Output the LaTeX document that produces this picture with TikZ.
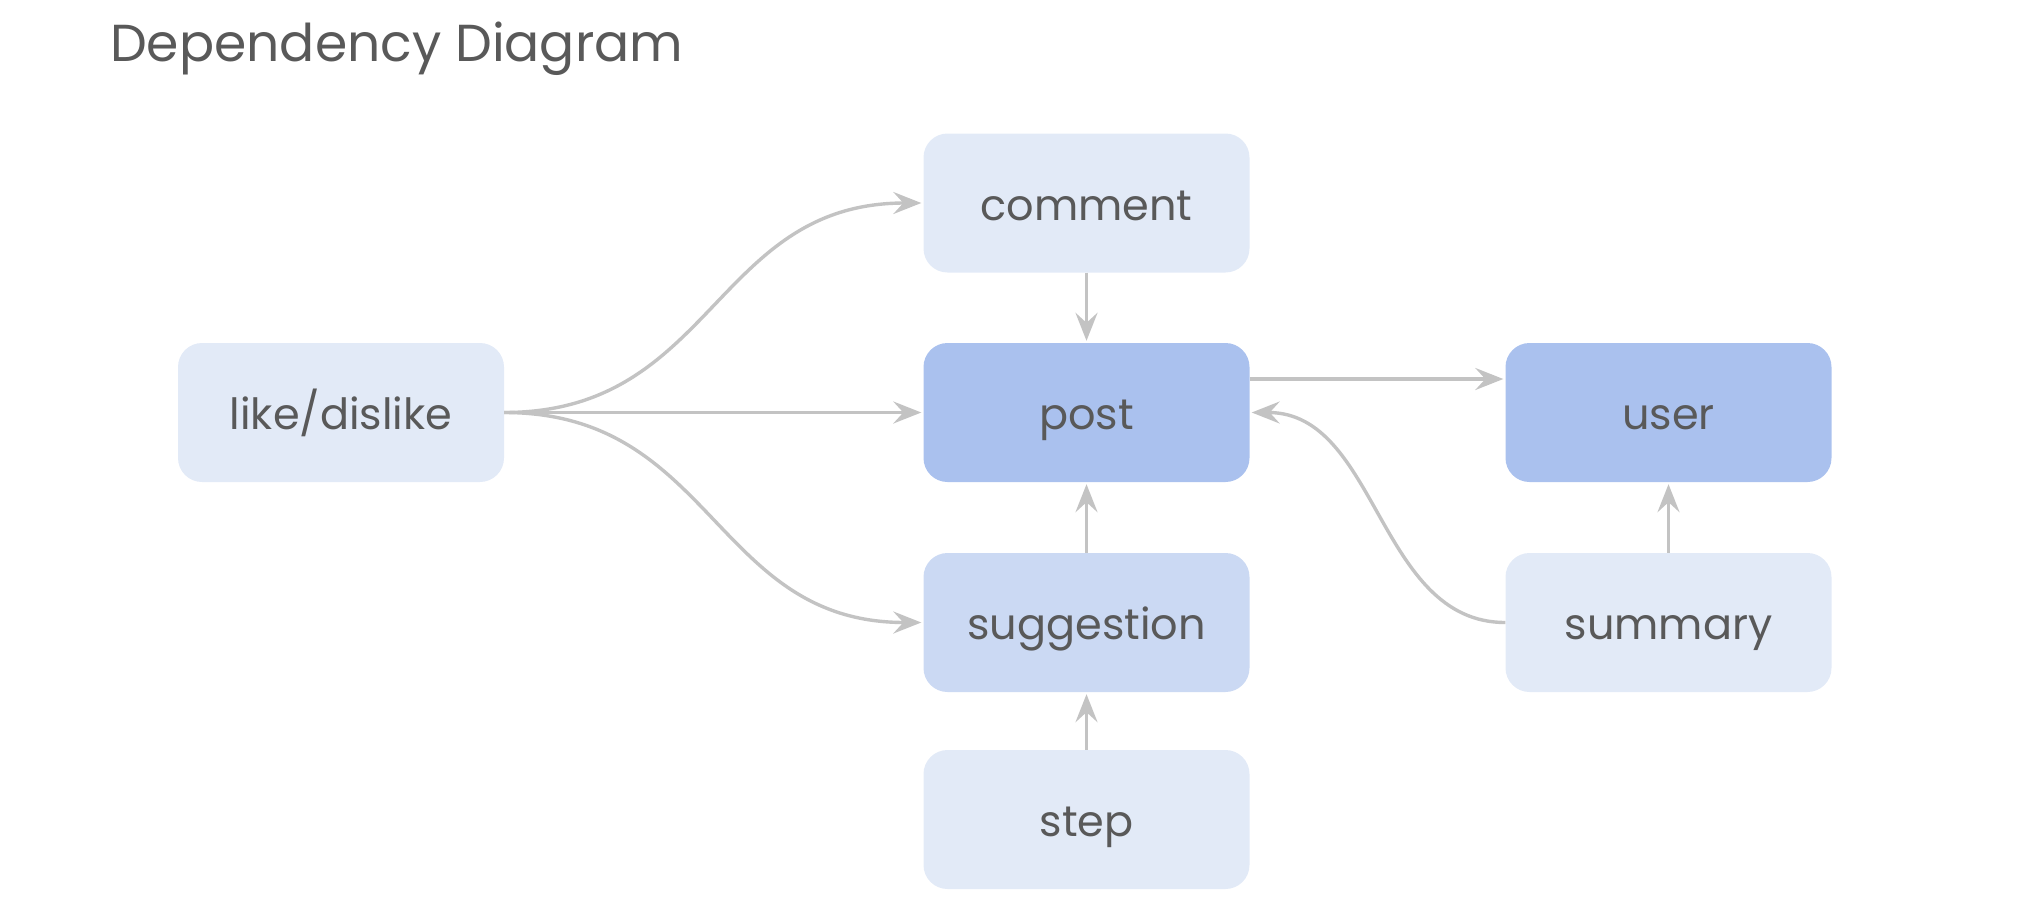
\documentclass[tikz,border=0pt]{standalone}
\usepackage{fontspec}
\setmainfont{Poppins}
\usetikzlibrary{arrows.meta}
\definecolor{lightbox}{HTML}{E2EAF7}
\definecolor{midbox}{HTML}{CBD9F3}
\definecolor{darkbox}{HTML}{AAC1EE}
\definecolor{txt}{HTML}{595959}
\definecolor{edgecol}{HTML}{C3C3C3}
\tikzset{
  box/.style={rectangle, rounded corners=24pt, minimum width=326pt, minimum height=139pt, inner sep=0pt, text=txt, font=\fontsize{43}{50}\selectfont, text height=34pt, text depth=0pt},
  lightnode/.style={box, fill=lightbox},
  midnode/.style={box, fill=midbox},
  darknode/.style={box, fill=darkbox},
  conn/.style={draw=edgecol, line width=3.4pt, -{Stealth[length=28pt,width=22pt,inset=10pt]}, shorten >=2pt},
}
\begin{document}
\begin{tikzpicture}[x=1pt,y=-1pt]
\useasboundingbox (0,0) rectangle (2032,922);
\node[anchor=base west, text=txt, font=\fontsize{52}{60}\selectfont, inner sep=0pt] (title) at (110,61) {Dependency Diagram};
\node[lightnode] (comment) at (1086.5,203) {comment};
\node[lightnode] (like) at (341,412.5) {like/dislike};
\node[darknode] (post) at (1086.5,412.5) {post};
\node[darknode] (user) at (1668.5,412.5) {user};
\node[midnode] (suggestion) at (1086.5,622.5) {suggestion};
\node[lightnode] (summary) at (1668.5,622.5) {summary};
\node[lightnode] (step) at (1086.5,819.5) {step};

\draw[conn] (like.east) .. controls (714,412.5) and (714,203) .. (comment.west);
\draw[conn] (like.east) -- (post.west);
\draw[conn] (like.east) .. controls (714,412.5) and (714,622.5) .. (suggestion.west);
\draw[conn] (comment.south) -- (post.north);
\draw[conn] ([yshift=33.5pt]post.east) -- ([yshift=33.5pt]user.west);
\draw[conn] (summary.west) .. controls (1378,622.5) and (1378,412.5) .. (post.east);
\draw[conn] (suggestion.north) -- (post.south);
\draw[conn] (step.north) -- (suggestion.south);
\draw[conn] (summary.north) -- (user.south);
\end{tikzpicture}
\end{document}
